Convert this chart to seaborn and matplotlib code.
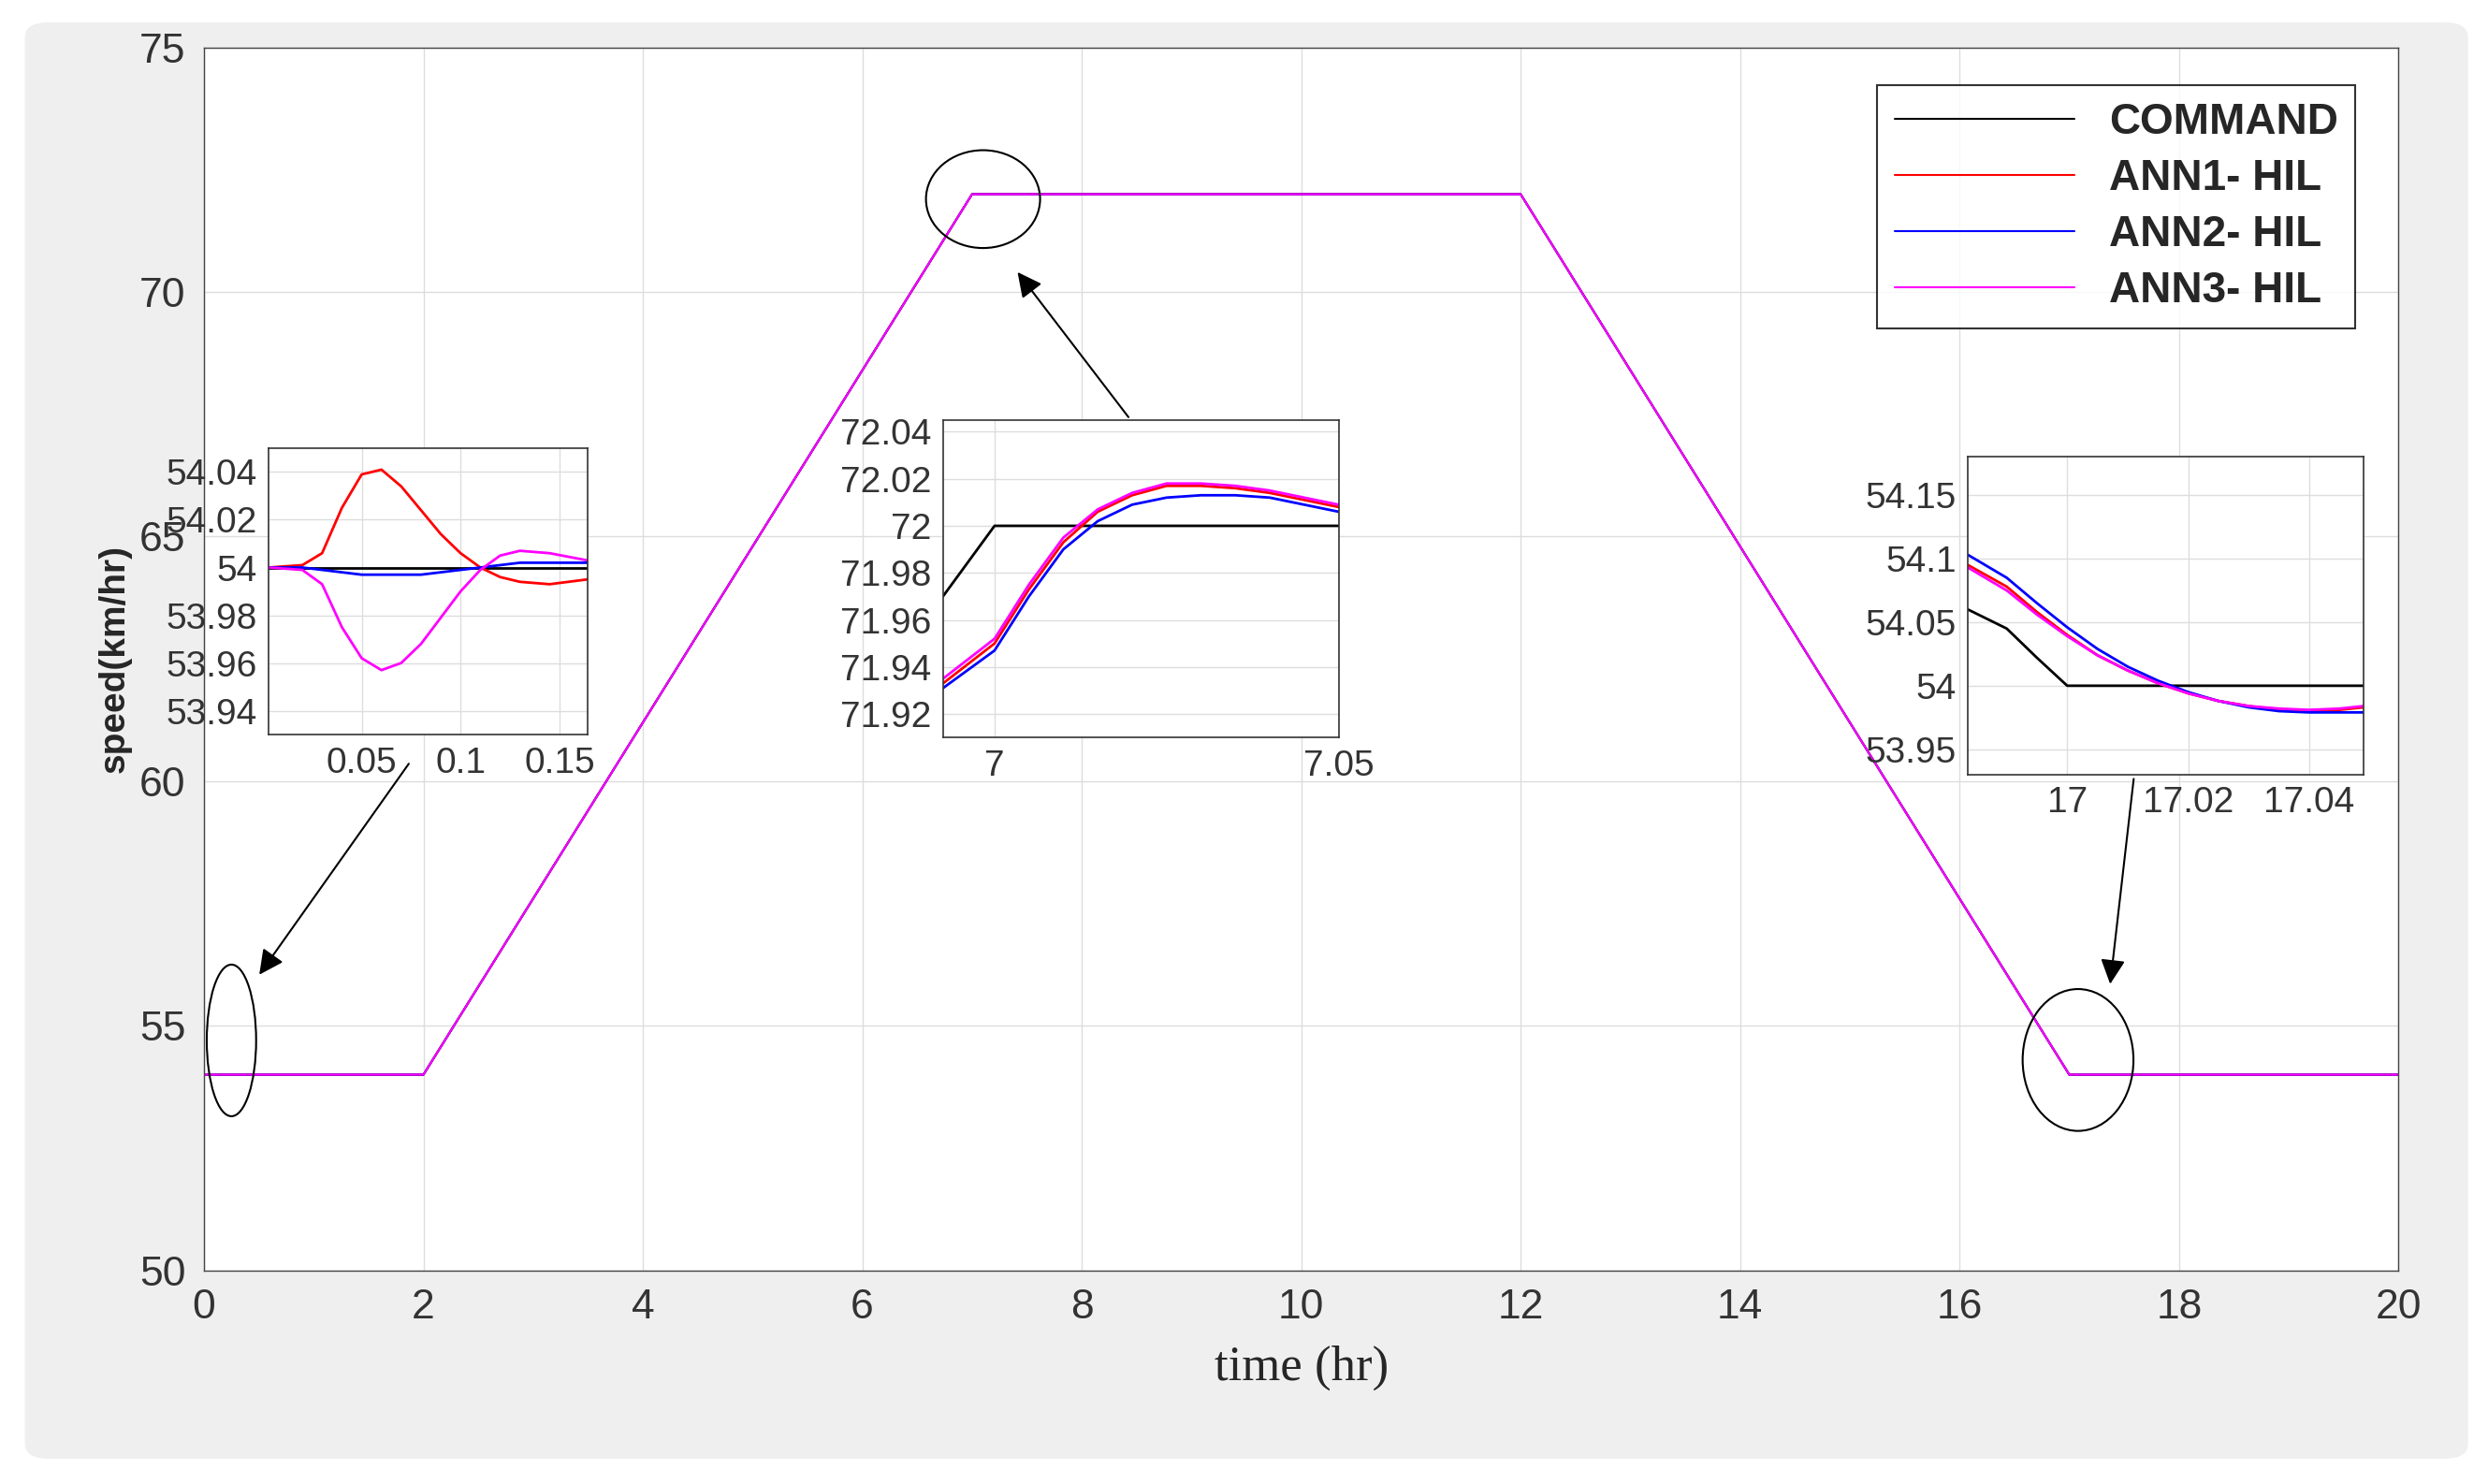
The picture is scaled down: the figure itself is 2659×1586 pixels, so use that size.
import matplotlib
matplotlib.use("Agg")
import matplotlib.pyplot as plt
import seaborn as sns
import pandas as pd
from matplotlib.patches import Ellipse, FancyBboxPatch

sns.set_theme(style="whitegrid")
plt.rcParams['font.family'] = ['Liberation Sans', 'DejaVu Sans']

# main data
t_main = [0, 2, 7, 12, 17, 20]
cmd_main = [54, 54, 72, 72, 54, 54]
series_names = ["COMMAND", "ANN1- HIL", "ANN2- HIL", "ANN3- HIL"]
colors = ["black", "red", "blue", "magenta"]

# inset 1
t1 = [0.003, 0.02, 0.03, 0.04, 0.05, 0.06, 0.07, 0.08, 0.09, 0.1, 0.11, 0.12, 0.13, 0.145, 0.164]
c1 = [54] * 15
a1_1 = [54.0, 54.001, 54.006, 54.025, 54.039, 54.041, 54.034, 54.024, 54.014, 54.006, 54.0, 53.996, 53.994, 53.993, 53.995]
a2_1 = [54.0, 54.0, 53.999, 53.998, 53.997, 53.997, 53.997, 53.997, 53.998, 53.999, 54.0, 54.001, 54.002, 54.002, 54.002]
a3_1 = [54.0, 53.999, 53.993, 53.975, 53.962, 53.957, 53.96, 53.968, 53.979, 53.99, 53.999, 54.005, 54.007, 54.006, 54.003]

# inset 2
t2 = [6.9925, 7.0, 7.005, 7.01, 7.015, 7.02, 7.025, 7.03, 7.035, 7.04, 7.045, 7.05]
c2 = [71.97, 72.0, 72.0, 72.0, 72.0, 72.0, 72.0, 72.0, 72.0, 72.0, 72.0, 72.0]
a1_2 = [71.933, 71.95, 71.973, 71.993, 72.006, 72.013, 72.017, 72.017, 72.016, 72.014, 72.011, 72.008]
a2_2 = [71.931, 71.947, 71.97, 71.99, 72.002, 72.009, 72.012, 72.013, 72.013, 72.012, 72.009, 72.006]
a3_2 = [71.935, 71.952, 71.975, 71.995, 72.007, 72.014, 72.018, 72.018, 72.017, 72.015, 72.012, 72.009]

# inset 3
t3 = [16.9836, 16.99, 16.995, 17.0, 17.005, 17.01, 17.015, 17.02, 17.025, 17.03, 17.035, 17.04, 17.045, 17.049]
c3 = [54.06, 54.045, 54.022, 54.0, 54.0, 54.0, 54.0, 54.0, 54.0, 54.0, 54.0, 54.0, 54.0, 54.0]
a1_3 = [54.095, 54.078, 54.058, 54.04, 54.024, 54.012, 54.002, 53.994, 53.988, 53.984, 53.981, 53.98, 53.981, 53.983]
a2_3 = [54.103, 54.085, 54.065, 54.046, 54.029, 54.015, 54.004, 53.995, 53.988, 53.983, 53.98, 53.979, 53.979, 53.979]
a3_3 = [54.093, 54.075, 54.056, 54.039, 54.024, 54.012, 54.002, 53.994, 53.988, 53.984, 53.982, 53.981, 53.982, 53.984]

fig = plt.figure(figsize=(26.59, 15.86), dpi=100)
fig.patches.append(FancyBboxPatch((0.01, 0.017), 0.982, 0.968, boxstyle="round,pad=0,rounding_size=0.01",
                                  transform=fig.transFigure, facecolor="#efefef", edgecolor="none", zorder=-10))

ax = fig.add_axes([0.082, 0.144, 0.882, 0.824])
ax.set_facecolor("white")
for i, (name, col) in enumerate(zip(series_names, colors)):
    df = pd.DataFrame({"t": t_main, "v": cmd_main})
    sns.lineplot(data=df, x="t", y="v", ax=ax, color=col, lw=1.5, label=name)
ax.set_xlim(0, 20)
ax.set_ylim(50, 75)
ax.set_xticks(range(0, 21, 2))
ax.set_yticks(range(50, 76, 5))
ax.tick_params(labelsize=32, colors="#333333", pad=8)
ax.grid(color="#dddddd", lw=1)
for s in ax.spines.values():
    s.set_color("#444444"); s.set_linewidth(1)
ax.set_xlabel("time (hr)", fontsize=38, family="Liberation Serif", labelpad=14)
ax.set_ylabel("speed(km/hr)", fontsize=28, fontweight="bold", labelpad=6)
leg = ax.legend(loc="upper right", prop={"weight": "bold", "size": 33},
                frameon=True, fancybox=False, edgecolor="black", handlelength=4.2,
                bbox_to_anchor=(0.99, 0.987), borderpad=0.4, labelspacing=0.35)
leg.get_frame().set_linewidth(1.5)

def ell(x, y, w, h):
    ax.add_patch(Ellipse((x, y), w, h, fill=False, edgecolor="black", lw=1.5, zorder=5))
ell(0.25, 54.7, 0.45, 3.1)
ell(7.1, 71.9, 1.04, 2.0)
ell(17.08, 54.3, 1.01, 2.9)
for tail, head in [((1.88, 60.4), (0.49, 56.0)), ((8.44, 67.4), (7.4, 70.45)), ((17.59, 60.1), (17.37, 55.8))]:
    ax.annotate("", xy=head, xytext=tail,
                arrowprops=dict(arrowstyle="-|>", color="black", lw=1.5, mutation_scale=40), zorder=6)

def inset(rect, t, data, xlim, ylim, xt, yt, xtl, ytl):
    a = fig.add_axes(rect)
    a.set_facecolor("white")
    for d, col in zip(data, colors):
        sns.lineplot(x=t, y=d, ax=a, color=col, lw=2)
    a.set_xlim(*xlim); a.set_ylim(*ylim)
    a.set_xticks(xt); a.set_xticklabels(xtl)
    a.set_yticks(yt); a.set_yticklabels(ytl)
    a.tick_params(labelsize=28, colors="#333333", pad=3)
    a.grid(color="#dddddd", lw=1)
    for s in a.spines.values():
        s.set_color("#333333"); s.set_linewidth(1.2)

inset([0.108, 0.505, 0.128, 0.193], t1, [c1, a1_1, a2_1, a3_1], (0.003, 0.164), (53.93, 54.05),
      [0.05, 0.1, 0.15], [53.94, 53.96, 53.98, 54, 54.02, 54.04],
      ["0.05", "0.1", "0.15"], ["53.94", "53.96", "53.98", "54", "54.02", "54.04"])
inset([0.379, 0.503, 0.159, 0.214], t2, [c2, a1_2, a2_2, a3_2], (6.9925, 7.05), (71.91, 72.045),
      [7, 7.05], [71.92, 71.94, 71.96, 71.98, 72, 72.02, 72.04],
      ["7", "7.05"], ["71.92", "71.94", "71.96", "71.98", "72", "72.02", "72.04"])
inset([0.791, 0.478, 0.159, 0.214], t3, [c3, a1_3, a2_3, a3_3], (16.9836, 17.049), (53.93, 54.18),
      [17, 17.02, 17.04], [53.95, 54, 54.05, 54.1, 54.15],
      ["17", "17.02", "17.04"], ["53.95", "54", "54.05", "54.1", "54.15"])

fig.savefig("out.png", dpi=100)
